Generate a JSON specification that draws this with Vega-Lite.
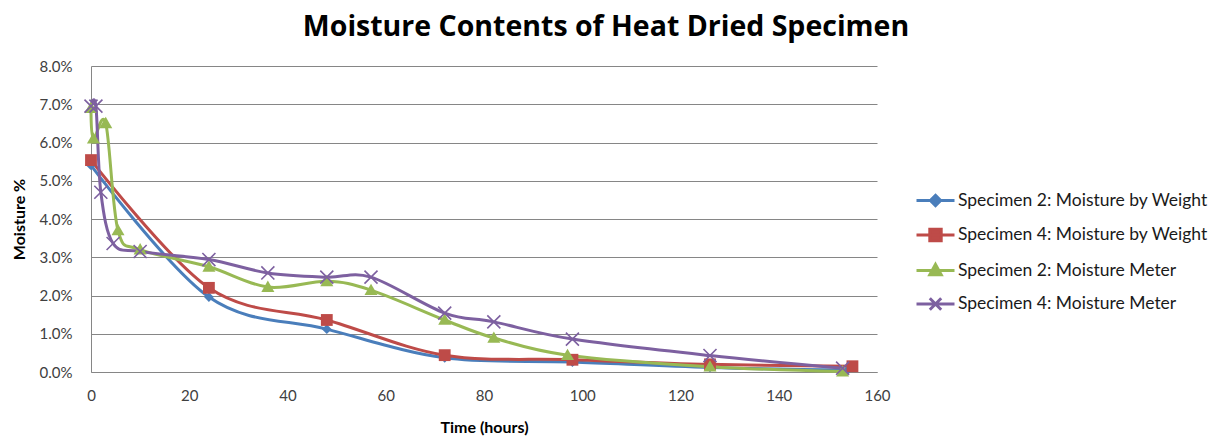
{
  "$schema": "https://vega.github.io/schema/vega-lite/v6.json",
  "width": 786,
  "height": 306,
  "autosize": "none",
  "padding": {"left": 91, "top": 66, "right": 342, "bottom": 66},
  "background": "white",
  "title": {
    "text": "Moisture Contents of Heat Dried Specimen",
    "anchor": "middle",
    "frame": "group",
    "dx": 122,
    "offset": 18,
    "font": "Open Sans",
    "fontSize": 28.5,
    "fontWeight": "bold",
    "color": "#000000"
  },
  "data": {
    "values": [
      {"hours": 0, "moisture": 0.054, "series": "Specimen 2: Moisture by Weight"},
      {"hours": 24, "moisture": 0.0196, "series": "Specimen 2: Moisture by Weight"},
      {"hours": 48, "moisture": 0.0112, "series": "Specimen 2: Moisture by Weight"},
      {"hours": 72, "moisture": 0.0037, "series": "Specimen 2: Moisture by Weight"},
      {"hours": 98, "moisture": 0.0026, "series": "Specimen 2: Moisture by Weight"},
      {"hours": 126, "moisture": 0.0012, "series": "Specimen 2: Moisture by Weight"},
      {"hours": 154, "moisture": 0.0005, "series": "Specimen 2: Moisture by Weight"},

      {"hours": 0, "moisture": 0.0554, "series": "Specimen 4: Moisture by Weight"},
      {"hours": 24, "moisture": 0.022, "series": "Specimen 4: Moisture by Weight"},
      {"hours": 48, "moisture": 0.0136, "series": "Specimen 4: Moisture by Weight"},
      {"hours": 72, "moisture": 0.0044, "series": "Specimen 4: Moisture by Weight"},
      {"hours": 98, "moisture": 0.0032, "series": "Specimen 4: Moisture by Weight"},
      {"hours": 126, "moisture": 0.002, "series": "Specimen 4: Moisture by Weight"},
      {"hours": 155, "moisture": 0.0015, "series": "Specimen 4: Moisture by Weight"},

      {"hours": 0, "moisture": 0.069, "series": "Specimen 2: Moisture Meter"},
      {"hours": 0.5, "moisture": 0.061, "series": "Specimen 2: Moisture Meter"},
      {"hours": 3, "moisture": 0.065, "series": "Specimen 2: Moisture Meter"},
      {"hours": 5.5, "moisture": 0.037, "series": "Specimen 2: Moisture Meter"},
      {"hours": 10, "moisture": 0.032, "series": "Specimen 2: Moisture Meter"},
      {"hours": 24, "moisture": 0.0275, "series": "Specimen 2: Moisture Meter"},
      {"hours": 36, "moisture": 0.0222, "series": "Specimen 2: Moisture Meter"},
      {"hours": 48, "moisture": 0.0237, "series": "Specimen 2: Moisture Meter"},
      {"hours": 57, "moisture": 0.0214, "series": "Specimen 2: Moisture Meter"},
      {"hours": 72, "moisture": 0.0136, "series": "Specimen 2: Moisture Meter"},
      {"hours": 82, "moisture": 0.0089, "series": "Specimen 2: Moisture Meter"},
      {"hours": 97, "moisture": 0.0044, "series": "Specimen 2: Moisture Meter"},
      {"hours": 126, "moisture": 0.0014, "series": "Specimen 2: Moisture Meter"},
      {"hours": 153, "moisture": 0.0001, "series": "Specimen 2: Moisture Meter"},

      {"hours": 0, "moisture": 0.0695, "series": "Specimen 4: Moisture Meter"},
      {"hours": 1, "moisture": 0.0695, "series": "Specimen 4: Moisture Meter"},
      {"hours": 2, "moisture": 0.047, "series": "Specimen 4: Moisture Meter"},
      {"hours": 4.5, "moisture": 0.0336, "series": "Specimen 4: Moisture Meter"},
      {"hours": 10, "moisture": 0.0315, "series": "Specimen 4: Moisture Meter"},
      {"hours": 24, "moisture": 0.0294, "series": "Specimen 4: Moisture Meter"},
      {"hours": 36, "moisture": 0.0259, "series": "Specimen 4: Moisture Meter"},
      {"hours": 48, "moisture": 0.0248, "series": "Specimen 4: Moisture Meter"},
      {"hours": 57, "moisture": 0.0248, "series": "Specimen 4: Moisture Meter"},
      {"hours": 72, "moisture": 0.0154, "series": "Specimen 4: Moisture Meter"},
      {"hours": 82, "moisture": 0.0131, "series": "Specimen 4: Moisture Meter"},
      {"hours": 98, "moisture": 0.0086, "series": "Specimen 4: Moisture Meter"},
      {"hours": 126, "moisture": 0.0043, "series": "Specimen 4: Moisture Meter"},
      {"hours": 153, "moisture": 0.001, "series": "Specimen 4: Moisture Meter"}
    ]
  },
  "encoding": {
    "x": {
      "field": "hours",
      "type": "quantitative",
      "scale": {"domain": [0, 160], "nice": false, "zero": false},
      "axis": {
        "title": "Time (hours)",
        "values": [0, 20, 40, 60, 80, 100, 120, 140, 160],
        "grid": false,
        "ticks": false,
        "labelFlush": false,
        "domainColor": "#868686",
        "domainWidth": 1,
        "labelPadding": 16,
        "titlePadding": 16
      }
    },
    "y": {
      "field": "moisture",
      "type": "quantitative",
      "scale": {"domain": [0, 0.08], "nice": false},
      "axis": {
        "title": "Moisture %",
        "format": ".1%",
        "values": [0, 0.01, 0.02, 0.03, 0.04, 0.05, 0.06, 0.07, 0.08],
        "grid": true,
        "gridColor": "#868686",
        "gridWidth": 1,
        "ticks": false,
        "labelFlush": false,
        "domainColor": "#868686",
        "labelPadding": 19,
        "titlePadding": 12
      }
    },
    "color": {
      "field": "series",
      "type": "nominal",
      "sort": null,
      "title": null,
      "scale": {
        "domain": [
          "Specimen 2: Moisture by Weight",
          "Specimen 4: Moisture by Weight",
          "Specimen 2: Moisture Meter",
          "Specimen 4: Moisture Meter"
        ],
        "range": ["#4A7EBB", "#BE4B48", "#98B954", "#7D60A0"]
      }
    }
  },
  "layer": [
    {
      "description": "Legend key: a line segment with the series marker, one entry per series",
      "transform": [{"filter": "false"}],
      "mark": {"type": "point", "filled": true},
      "encoding": {
        "shape": {
          "field": "series",
          "type": "nominal",
          "sort": null,
          "title": null,
          "scale": {
            "domain": [
              "Specimen 2: Moisture by Weight",
              "Specimen 4: Moisture by Weight",
              "Specimen 2: Moisture Meter",
              "Specimen 4: Moisture Meter"
            ],
            "range": [
              "M-1,0L1,0M0,-0.27L0.27,0L0,0.27L-0.27,0Z",
              "M-1,0L1,0M-0.3,-0.3L0.3,-0.3L0.3,0.3L-0.3,0.3Z",
              "M-1,0L1,0M0,-0.32L0.3,0.22L-0.3,0.22Z",
              "M-1,0L1,0M-0.3,-0.3L0.3,0.3M-0.3,0.3L0.3,-0.3"
            ]
          }
        },
        "stroke": {
          "field": "series",
          "type": "nominal",
          "sort": null,
          "title": null,
          "scale": {
            "domain": [
              "Specimen 2: Moisture by Weight",
              "Specimen 4: Moisture by Weight",
              "Specimen 2: Moisture Meter",
              "Specimen 4: Moisture Meter"
            ],
            "range": ["#4A7EBB", "#BE4B48", "#98B954", "#7D60A0"]
          }
        }
      }
    },
    {
      "mark": {"type": "line", "interpolate": "cardinal", "strokeWidth": 3}
    },
    {
      "transform": [{"filter": "datum.series === 'Specimen 2: Moisture by Weight'"}],
      "mark": {"type": "point", "filled": true, "opacity": 1, "shape": "diamond", "size": 95}
    },
    {
      "transform": [{"filter": "datum.series === 'Specimen 4: Moisture by Weight'"}],
      "mark": {"type": "point", "filled": true, "opacity": 1, "shape": "square", "size": 140}
    },
    {
      "transform": [{"filter": "datum.series === 'Specimen 2: Moisture Meter'"}],
      "mark": {"type": "point", "filled": true, "opacity": 1, "shape": "M0,-1L1,0.75L-1,0.75Z", "size": 170}
    },
    {
      "transform": [{"filter": "datum.series === 'Specimen 4: Moisture Meter'"}],
      "mark": {"type": "point", "filled": false, "opacity": 1, "strokeWidth": 1.6, "shape": "M-1,-1L1,1M-1,1L1,-1", "size": 170}
    }
  ],
  "config": {
    "view": {"stroke": null},
    "font": "Lato",
    "axis": {
      "labelFont": "Lato",
      "labelFontSize": 15,
      "labelColor": "#404040",
      "titleFont": "Lato",
      "titleFontSize": 16,
      "titleFontWeight": "bold",
      "titleColor": "#000000"
    },
    "legend": {
      "orient": "none",
      "legendX": 824,
      "legendY": 114,
      "labelFont": "Lato",
      "labelFontSize": 17.5,
      "labelColor": "#1a1a1a",
      "symbolSize": 1444,
      "symbolStrokeWidth": 3,
      "symbolOpacity": 1,
      "rowPadding": 2.5,
      "labelOffset": 2,
      "labelLimit": 400
    }
  }
}
